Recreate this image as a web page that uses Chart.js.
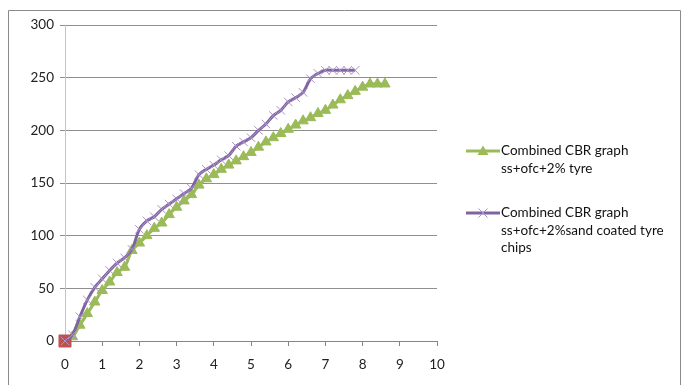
<!DOCTYPE html>
<html>
<head>
<meta charset="utf-8">
<script src="https://cdn.jsdelivr.net/npm/chart.js@4"></script>
<style>
  html, body { margin: 0; padding: 0; background: #fff; }
  #wrap { position: relative; width: 686px; height: 385px; }
  #legend { position: absolute; left: 466px; top: 0; font-family: Lato, "Open Sans", sans-serif; font-size: 13.5px; color: #111; }
  .item { position: absolute; left: 0; white-space: nowrap; }
  .item svg { position: absolute; left: 0; }
  .item .txt { position: absolute; left: 35px; line-height: 17.7px; }
</style>
</head>
<body>
<div id="wrap">
  <canvas id="c" width="686" height="385"></canvas>
  <div id="legend">
    <div class="item" style="top:142px">
      <svg width="34" height="18" viewBox="0 0 34 18"><line x1="0" y1="9" x2="34" y2="9" stroke="#9BBB59" stroke-width="3"/><polygon points="17,3.5 22.5,13 11.5,13" fill="#9BBB59"/></svg>
      <div class="txt" style="top:0">Combined CBR graph<br>ss+ofc+2% tyre</div>
    </div>
    <div class="item" style="top:204px">
      <svg width="34" height="18" viewBox="0 0 34 18"><line x1="0" y1="9" x2="34" y2="9" stroke="#8064A2" stroke-width="3"/><line x1="12.5" y1="4.5" x2="21.5" y2="13.5" stroke="#a993c8" stroke-width="1"/><line x1="21.5" y1="4.5" x2="12.5" y2="13.5" stroke="#a993c8" stroke-width="1"/></svg>
      <div class="txt" style="top:0">Combined CBR graph<br>ss+ofc+2%sand coated tyre<br>chips</div>
    </div>
  </div>
</div>
<script>
// Penetration readings (x) and combined CBR load readings (y)
const tyrePenetration = [0,0.2,0.4,0.6,0.8,1.0,1.2,1.4,1.6,1.8,2.0,2.2,2.4,2.6,2.8,3.0,3.2,3.4,3.6,3.8,4.0,4.2,4.4,4.6,4.8,5.0,5.2,5.4,5.6,5.8,6.0,6.2,6.4,6.6,6.8,7.0,7.2,7.4,7.6,7.8,8.0,8.2,8.4,8.6];
const tyreLoad = [0,4,15,26,37,48,56,65,70,86,93,100,107,112,120,127,133,139,148,154,158,163,167,171,175,179,184,189,193,197,201,205,209,212,216,219,224,229,233,237,241,244,244,244];

const sandPenetration = [0,0.2,0.4,0.6,0.8,1.0,1.2,1.4,1.6,1.8,2.0,2.2,2.4,2.6,2.8,3.0,3.2,3.4,3.6,3.8,4.0,4.2,4.4,4.6,4.8,5.0,5.2,5.4,5.6,5.8,6.0,6.2,6.4,6.6,6.8,7.0,7.2,7.4,7.6,7.8];
const sandLoad = [0,6,23,39,51,59,67,74,79,87,106,114,118,125,130,135,140,145,158,163,167,172,176,185,189,193,200,206,214,219,227,231,236,249,254,257,257,257,257,257];

const originPenetration = [0];
const originLoad = [0];

const xTicks = [0,1,2,3,4,5,6,7,8,9,10];
const yTicks = [0,50,100,150,200,250,300];

const toPoints = (xs, ys) => xs.map((x, i) => ({ x: x, y: ys[i] }));

const frame = {
  id: 'frame',
  afterDraw(chart) {
    const ctx = chart.ctx;
    ctx.save();
    ctx.strokeStyle = '#8a8a8a';
    ctx.lineWidth = 1;
    ctx.beginPath();
    ctx.moveTo(8.5, 400);
    ctx.lineTo(8.5, 10.5);
    ctx.lineTo(680.5, 10.5);
    ctx.lineTo(680.5, 400);
    ctx.stroke();
    ctx.restore();
  }
};

const tickFont = { family: 'Lato, "Open Sans", sans-serif', size: 13.5 };

new Chart(document.getElementById('c'), {
  type: 'scatter',
  data: {
    datasets: [
      {
        label: 'Combined CBR graph ss+ofc+2% tyre',
        data: toPoints(tyrePenetration, tyreLoad),
        showLine: true,
        clip: false,
        borderColor: '#9BBB59',
        backgroundColor: '#9BBB59',
        borderWidth: 3,
        tension: 0.3,
        pointStyle: 'triangle',
        pointRadius: 6,
        pointBorderWidth: 1,
        pointBackgroundColor: '#9BBB59',
        pointBorderColor: '#9BBB59',
        order: 2
      },
      {
        label: 'origin',
        data: toPoints(originPenetration, originLoad),
        showLine: false,
        clip: false,
        pointStyle: 'rect',
        pointRadius: 8.5,
        backgroundColor: '#C0504D',
        borderColor: '#C0504D',
        order: 1
      },
      {
        label: 'Combined CBR graph ss+ofc+2%sand coated tyre chips',
        data: toPoints(sandPenetration, sandLoad),
        showLine: true,
        clip: false,
        borderColor: '#8064A2',
        backgroundColor: '#8064A2',
        borderWidth: 3,
        tension: 0.3,
        pointStyle: 'crossRot',
        pointRadius: 6,
        pointBorderWidth: 1,
        pointBorderColor: '#a993c8',
        order: 0
      }
    ]
  },
  options: {
    responsive: false,
    animation: false,
    layout: { padding: { left: 0, top: 25, right: 249, bottom: 0 } },
    plugins: { legend: { display: false }, tooltip: { enabled: false } },
    scales: {
      x: {
        type: 'linear',
        min: 0, max: 10,
        afterBuildTicks(scale) { scale.ticks = xTicks.map(v => ({ value: v })); },
        afterFit(scale) { scale.height = 44; },
        border: { color: '#868686', width: 1 },
        grid: { drawOnChartArea: false, drawTicks: true, tickLength: 5, color: '#868686' },
        ticks: { color: '#222', font: tickFont, padding: 11 }
      },
      y: {
        type: 'linear',
        min: 0, max: 300,
        afterBuildTicks(scale) { scale.ticks = yTicks.map(v => ({ value: v })); },
        afterFit(scale) { scale.width = 65; },
        border: { color: '#c4c4c4', width: 1 },
        grid: { color: '#8f8f8f', tickLength: 5, drawTicks: true },
        ticks: { color: '#222', font: tickFont, padding: 6 }
      }
    }
  },
  plugins: [frame]
});
</script>
</body>
</html>
